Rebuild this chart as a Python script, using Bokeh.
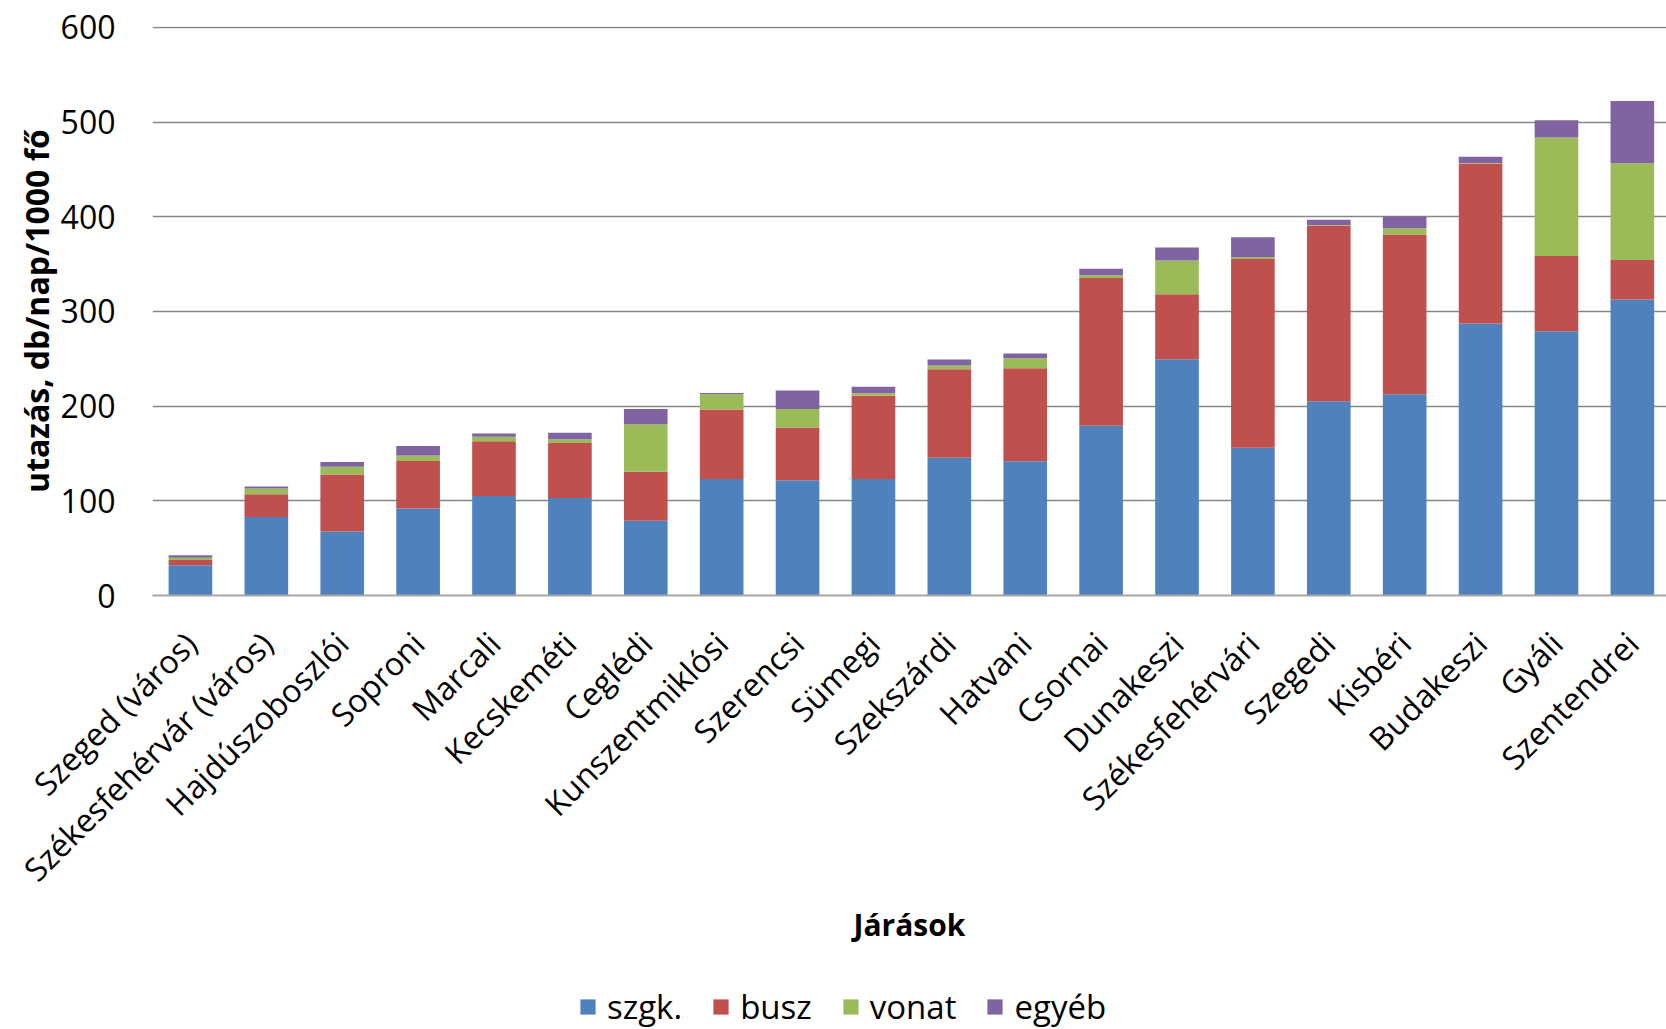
import math
from bokeh.plotting import figure
from bokeh.layouts import column
from bokeh.models import (ColumnDataSource, Range1d, FixedTicker, Legend, LegendItem)
from bokeh.embed import file_html
from bokeh.resources import INLINE

categories = ["Szeged (város)", "Székesfehérvár (város)", "Hajdúszoboszlói", "Soproni",
              "Marcali", "Kecskeméti", "Ceglédi", "Kunszentmiklósi", "Szerencsi", "Sümegi",
              "Szekszárdi", "Hatvani", "Csornai", "Dunakeszi", "Székesfehérvári", "Szegedi",
              "Kisbéri", "Budakeszi", "Gyáli", "Szentendrei"]
szgk = [32, 83, 67.6, 92, 105, 103, 79, 123, 121.8, 123, 145.4, 141.9, 179.3, 249.6, 156,
        205.3, 212.7, 287.3, 279.1, 312.6]
busz = [5.5, 24, 60.1, 50, 58, 58, 51.6, 73.5, 55.7, 88, 93.6, 98.1, 156, 68.7, 199.3,
        185.5, 168.6, 169, 79.6, 41.8]
vonat = [2.5, 6, 8.3, 6, 4.6, 4, 50.4, 16.2, 19.5, 2.5, 4, 10.5, 2.9, 35.6, 2.1,
         0.5, 6.7, 0.5, 125.1, 102.2]
egyeb = [2.6, 2, 5, 10, 3.4, 7, 16, 1.3, 19.6, 7, 6.4, 5.2, 7, 13.7, 21.1,
         5.7, 12.7, 6.6, 18.1, 65.6]
series_names = ["szgk.", "busz", "vonat", "egyéb"]
colors = ["#4F81BD", "#C0504D", "#9BBB59", "#8064A2"]
y_ticks = [0, 100, 200, 300, 400, 500, 600]

xs = list(range(len(categories)))
source = ColumnDataSource(dict(x=xs, szgk=szgk, busz=busz, vonat=vonat, egyeb=egyeb))

FONT = "Open Sans"

p = figure(width=1666, height=978, x_range=Range1d(-0.5, 19.45), y_range=Range1d(0, 601),
           output_backend="svg", toolbar_location=None,
           min_border_left=152, min_border_right=0, min_border_top=26, min_border_bottom=383)

rs = p.vbar_stack(["szgk", "busz", "vonat", "egyeb"], x="x", width=0.575, color=colors,
                  line_color=None, source=source)

# y axis
p.yaxis.ticker = FixedTicker(ticks=y_ticks)
p.yaxis.axis_line_color = None
p.yaxis.major_tick_line_color = None
p.yaxis.minor_tick_line_color = None
p.yaxis.major_tick_out = 0
p.yaxis.major_label_standoff = 37
p.yaxis.major_label_text_font = FONT
p.yaxis.major_label_text_font_size = "32px"
p.yaxis.major_label_text_color = "black"
p.yaxis.axis_label = "utazás, db/nap/1000 fő"
p.yaxis.axis_label_text_font = FONT
p.yaxis.axis_label_text_font_style = "bold"
p.yaxis.axis_label_text_font_size = "32px"
p.yaxis.axis_label_text_color = "black"
p.yaxis.axis_label_standoff = 0

# x axis
p.xaxis.ticker = FixedTicker(ticks=xs)
p.xaxis.major_label_overrides = {i: c for i, c in zip(xs, categories)}
p.xaxis.major_label_orientation = math.pi / 4
p.xaxis.major_label_text_font = FONT
p.xaxis.major_label_text_font_size = "32px"
p.xaxis.major_label_text_color = "black"
p.xaxis.major_tick_line_color = None
p.xaxis.minor_tick_line_color = None
p.xaxis.major_tick_out = 0
p.xaxis.major_label_standoff = 42
p.xaxis.axis_line_color = "#a6a6a6"
p.xaxis.axis_line_width = 2
p.xaxis.axis_label = "Járások"
p.xaxis.axis_label_text_font = FONT
p.xaxis.axis_label_text_font_style = "bold"
p.xaxis.axis_label_text_font_size = "30px"
p.xaxis.axis_label_text_color = "black"
p.xaxis.axis_label_standoff = -4

p.xgrid.visible = False
p.ygrid.grid_line_color = "#868686"
p.ygrid.grid_line_width = 1.5
p.outline_line_color = None

# legend strip below the chart (its frame is aligned with the chart's frame)
lf = figure(width=1666, height=51, x_range=Range1d(0, 1), y_range=Range1d(0, 1),
            output_backend="svg", toolbar_location=None,
            x_axis_location=None, y_axis_location=None,
            min_border_left=152, min_border_right=0, min_border_top=0, min_border_bottom=0)
lf.grid.visible = False
lf.outline_line_color = None
leg_rs = []
for c in colors:
    # swatch renderers kept outside the visible range; only their legend glyphs show
    src = ColumnDataSource(dict(x=[5], top=[0.5]))
    leg_rs.append(lf.vbar(x="x", top="top", width=0.5, color=c, line_color=None, source=src))
legend = Legend(items=[LegendItem(label=n, renderers=[r]) for n, r in zip(series_names, leg_rs)],
                orientation="horizontal", location=(426, 0))
legend.border_line_color = None
legend.background_fill_alpha = 0
legend.label_text_font = FONT
legend.label_text_font_size = "33px"
legend.label_text_color = "black"
legend.glyph_width = 19
legend.glyph_height = 19
legend.label_standoff = 10
legend.spacing = 29
legend.padding = 0
legend.margin = 0
lf.add_layout(legend, "center")

layout = column(p, lf, spacing=0)
open("out.html", "w").write(file_html(layout, INLINE))
